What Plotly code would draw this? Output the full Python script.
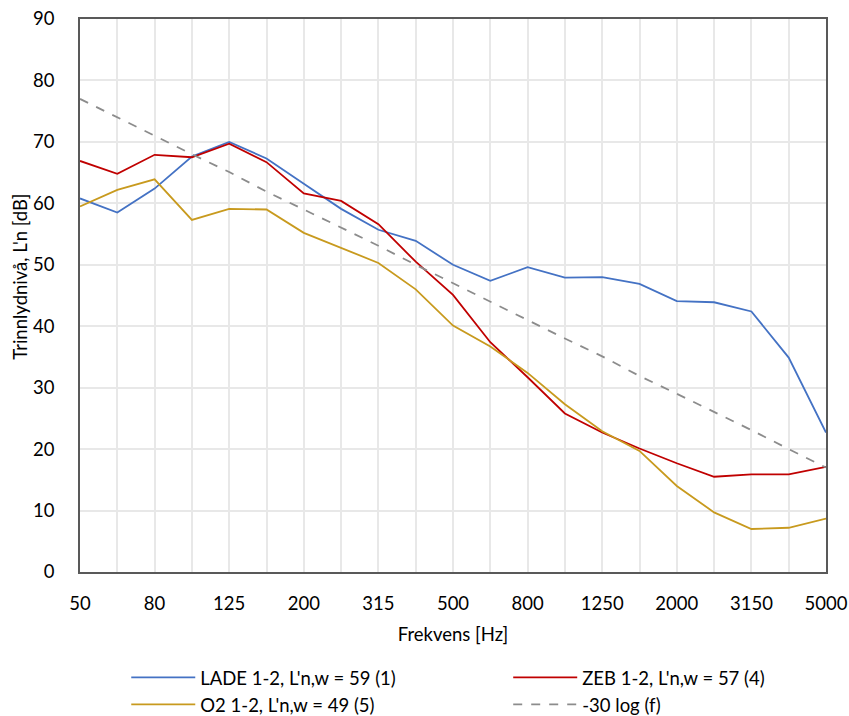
import plotly.graph_objects as go

freqs = ["50", "63", "80", "100", "125", "160", "200", "250", "315", "400", "500",
         "630", "800", "1000", "1250", "1600", "2000", "2500", "3150", "4000", "5000"]
show_labels = ["50", "80", "125", "200", "315", "500", "800", "1250", "2000", "3150", "5000"]

lade = [60.8, 58.5, 62.4, 67.6, 70.0, 67.3, 63.2, 59.1, 55.7, 53.9, 50.0,
        47.4, 49.6, 47.9, 48.0, 46.9, 44.1, 43.9, 42.4, 34.9, 22.7]
zeb = [66.9, 64.8, 67.9, 67.5, 69.7, 66.7, 61.6, 60.4, 56.6, 50.5, 45.1,
       37.4, 31.7, 25.8, 22.7, 20.1, 17.7, 15.5, 15.9, 15.9, 17.1]
o2 = [59.5, 62.2, 63.9, 57.3, 59.1, 59.0, 55.2, 52.7, 50.3, 46.0, 40.1,
      36.7, 32.4, 27.3, 22.9, 19.7, 14.0, 9.7, 7.0, 7.2, 8.7]
ref = [77.0, 74.0, 70.9, 68.0, 65.1, 61.9, 59.0, 56.1, 53.1, 50.0, 47.0,
       44.0, 40.9, 38.0, 35.1, 31.9, 29.0, 26.1, 23.1, 20.0, 17.0]

names = ["LADE 1-2, L'n,w = 59 (1)", "ZEB 1-2, L'n,w = 57 (4)",
         "O2 1-2, L'n,w = 49 (5)", "-30 log (f)"]
y_title = "Trinnlydnivå, L'n [dB]"
x_title = "Frekvens [Hz]"

FONT = "Lato, Open Sans, sans-serif"
FS = 18.5

fig = go.Figure()
fig.add_trace(go.Scatter(x=freqs, y=lade, mode="lines", name=names[0],
                         legend="legend", legendgroup="a",
                         line=dict(color="#4472C4", width=1.8)))
fig.add_trace(go.Scatter(x=freqs, y=zeb, mode="lines", name=names[1],
                         legend="legend2", legendgroup="b",
                         line=dict(color="#C00000", width=1.8)))
fig.add_trace(go.Scatter(x=freqs, y=o2, mode="lines", name=names[2],
                         legend="legend", legendgroup="c",
                         line=dict(color="#C89A1E", width=1.8)))
fig.add_trace(go.Scatter(x=freqs, y=ref, mode="lines", name=names[3],
                         legend="legend2", legendgroup="d",
                         line=dict(color="#8C8C8C", width=1.8, dash="dash")))

ticktext = [f if f in show_labels else "" for f in freqs]

leg_common = dict(orientation="v", yanchor="top", xanchor="left",
                  itemwidth=64, font=dict(size=FS, family=FONT),
                  bgcolor="rgba(0,0,0,0)", tracegroupgap=0, groupclick="toggleitem")

fig.update_layout(
    width=849, height=716,
    margin=dict(l=80, r=23, t=19, b=144, autoexpand=False),
    paper_bgcolor="white", plot_bgcolor="white",
    font=dict(family=FONT, size=FS, color="#000000"),
    showlegend=True,
    legend=dict(x=0.062, y=-0.157, **leg_common),
    legend2=dict(x=0.574, y=-0.157, **leg_common),
    xaxis=dict(type="category", categoryorder="array", categoryarray=freqs,
               range=[0, 20], tickmode="array", tickvals=freqs, ticktext=ticktext,
               showgrid=True, gridcolor="#E8E8E8", gridwidth=1.5,
               showline=True, linecolor="#595959", linewidth=1.5, mirror=True,
               ticks="", ticklabelstandoff=14,
               title=dict(text=x_title, font=dict(size=FS), standoff=15),
               tickfont=dict(size=FS)),
    yaxis=dict(range=[0, 90], dtick=10, tick0=0,
               showgrid=True, gridcolor="#E8E8E8", gridwidth=1.5,
               showline=True, linecolor="#595959", linewidth=1.5, mirror=True,
               ticks="", ticklabelstandoff=20, zeroline=False,
               tickfont=dict(size=FS)),
    annotations=[dict(text=y_title, textangle=-90, xref="paper", yref="paper",
                      x=-0.0804, y=0.534, xanchor="center", yanchor="middle",
                      showarrow=False, font=dict(size=FS, family=FONT))],
)

fig.write_html("out.html", config={"displayModeBar": False},
               post_script="document.body.style.margin='0';")
